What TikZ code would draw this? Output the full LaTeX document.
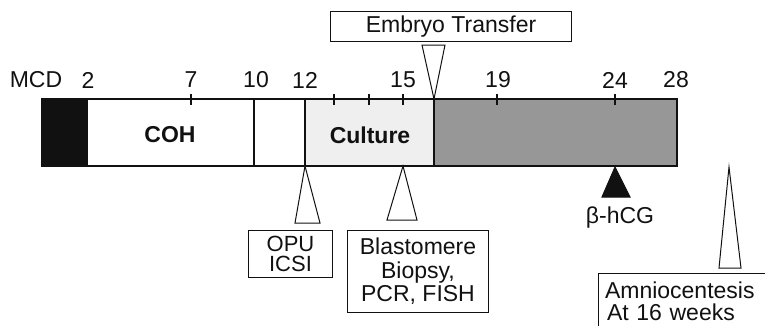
\documentclass[tikz,border=0pt]{standalone}
\usepackage{fontspec}
\setmainfont{Liberation Sans}
\usetikzlibrary{positioning}
\definecolor{inktext}{HTML}{111111}
\definecolor{culturefill}{HTML}{EFEFEF}
\definecolor{transferfill}{HTML}{979797}

\begin{document}
\begin{tikzpicture}[
    x=1pt, y=-1pt,
    daylabel/.style={font=\fontsize{23}{24}\selectfont, text=inktext, inner sep=0pt},
    phase/.style={font=\fontsize{23}{24}\selectfont\bfseries, text=inktext, inner sep=0pt},
    infobox/.style={draw=inktext, line width=1pt, fill=white, align=center,
                    font=\fontsize{23}{23.5}\selectfont, text=inktext,
                    inner sep=0pt, anchor=north west},
    pointer/.style={draw=inktext, line width=1pt, fill=white, line join=miter},
    tickmark/.style={line width=1.2pt, draw=inktext}
]
\useasboundingbox (0,0) rectangle (765,325);

% Cycle bar
\fill[inktext] (42,99) rectangle (88,166);
\fill[culturefill] (305,99) rectangle (434,166);
\fill[transferfill] (434,99) rectangle (677,166);
\draw[line width=1.4pt, draw=inktext] (42,99) rectangle (677,166);
\foreach \x in {254,305,434}
    \draw[line width=1.2pt, draw=inktext] (\x,99) -- (\x,166);

% Ticks on the top edge
\foreach \x in {191,334,369,403,497,615}
    \draw[tickmark] (\x,94) -- (\x,105);

% Day numbers
\node[daylabel] (mcd) at (36,80) {MCD};
\foreach \x/\d in {88/2, 191/7, 256/10, 305/12, 403/15, 498/19, 615/24, 676/28}
    \node[daylabel] (day\d) at (\x,80) {\d};

% Phase names
\node[phase] (coh) at (170,135) {COH};
\node[phase] (culture) at (370,135) {Culture};

% Points on the bar
\coordinate (transfer) at (434,99);
\coordinate (opu) at (305,166);
\coordinate (biopsy) at (403,166);
\coordinate (hcg) at (615,167);
\coordinate (amnio) at (729,167);

% Embryo transfer
\node[infobox, minimum width=241pt, minimum height=30pt] (etbox) at (330,11) {Embryo Transfer};
\draw[pointer] (transfer) -- ++(-12,-54) -- ++(23,0) -- cycle;

% OPU / ICSI
\draw[pointer] (opu) -- ++(-10,57) -- ++(25,0) -- cycle;
\node[infobox, minimum width=84pt, minimum height=47pt,
      font=\fontsize{22}{20.5}\selectfont] (opubox) at (248,230) {OPU\\ICSI};

% Biopsy
\draw[pointer] (biopsy) -- ++(-16,54) -- ++(30,0) -- cycle;
\node[infobox, minimum width=141pt, minimum height=82pt] (biopsybox) at (347,230)
    {Blastomere\\Biopsy,\\PCR, FISH};

% beta-hCG
\draw[pointer, fill=inktext] (hcg) -- ++(-13,30) -- ++(28,0) -- cycle;
\node[daylabel] (hcglabel) at (620,218) {β-hCG};

% Amniocentesis
\draw[pointer] (amnio) -- ++(-10,101) -- ++(22,0) -- cycle;
\node[infobox, minimum width=180pt, minimum height=55pt, text width=167pt, align=left,
      font=\fontsize{23}{22}\selectfont]
    (amniobox) at (598,273) {Amniocentesis\\\hspace*{2pt}At 16 weeks};

\end{tikzpicture}
\end{document}
